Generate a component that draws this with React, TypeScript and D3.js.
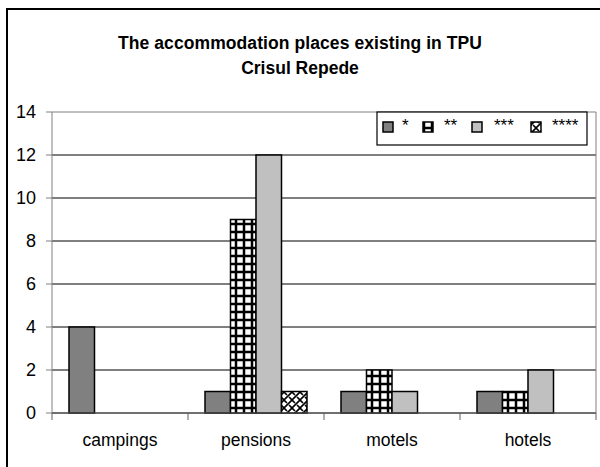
import React from "react";
import * as d3 from "d3";

const categories = ["campings", "pensions", "motels", "hotels"];
const seriesNames = ["*", "**", "***", "****"];
const oneStar = [4, 1, 1, 1];
const twoStar = [0, 9, 2, 1];
const threeStar = [0, 12, 1, 2];
const fourStar = [0, 1, 0, 0];
const yTicks = [0, 2, 4, 6, 8, 10, 12, 14];

const seriesValues = [oneStar, twoStar, threeStar, fourStar];
const fills = ["#808080", "url(#grid)", "#c0c0c0", "url(#zig)"];

const W = 600;
const H = 467;
const plot = { left: 52, right: 596, top: 112, bottom: 413 };
const font = "'Liberation Sans', Arial, sans-serif";

export default function App() {
  const x0 = d3.scaleBand().domain(categories).range([plot.left, plot.right]);
  // bars fill 3/4 of each category band, centred
  const x1 = d3
    .scaleBand()
    .domain(seriesNames)
    .range([0, x0.bandwidth()])
    .paddingInner(0)
    .paddingOuter(2 / 3);
  const y = d3.scaleLinear().domain([0, 14]).range([plot.bottom, plot.top]);

  const legendItems = [
    { x: 383, tx: 402 },
    { x: 423, tx: 444 },
    { x: 472, tx: 494 },
    { x: 531, tx: 552 },
  ];

  return (
    <svg width={W} height={H} style={{ position: "absolute", left: 0, top: 0, background: "#fff" }} fontFamily={font}>
      <defs>
        <pattern id="grid" width="8" height="8" patternUnits="userSpaceOnUse">
          <rect width="8" height="8" fill="#fff" />
          <path d="M0,0H8M0,8H8M0,0V8M8,0V8" stroke="#000" strokeWidth="2.5" />
        </pattern>
        <pattern id="zig" width="8" height="8" patternUnits="userSpaceOnUse">
          <rect width="8" height="8" fill="#fff" />
          <path d="M0,8L8,0M-2,2L2,-2M6,10L10,6M0,0L3,3M5,5L8,8" stroke="#000" strokeWidth="1.6" />
        </pattern>
      </defs>

      {/* outer frame */}
      <rect x={7} y={9} width={640} height={500} fill="none" stroke="#000" strokeWidth={2} />

      <text x={300} y={49} textAnchor="middle" fontSize={17.5} fontWeight="bold" textLength={364} lengthAdjust="spacing">
        The accommodation places existing in TPU
      </text>
      <text x={300} y={74} textAnchor="middle" fontSize={17.5} fontWeight="bold">
        Crisul Repede
      </text>

      {/* gridlines */}
      {yTicks.map((t) => (
        <line key={t} x1={plot.left} x2={plot.right} y1={y(t)} y2={y(t)} stroke={t === 14 ? "#808080" : "#000"} strokeWidth={1} />
      ))}
      <line x1={plot.right} x2={plot.right} y1={plot.top} y2={plot.bottom} stroke="#808080" />

      {/* bars */}
      {categories.map((c, ci) => (
        <g key={c} transform={`translate(${x0(c)},0)`}>
          {seriesNames.map((s, si) => {
            const v = seriesValues[si][ci];
            if (!v) return null;
            return (
              <rect
                key={s}
                x={x1(s)}
                y={y(v)}
                width={x1.bandwidth()}
                height={y(0) - y(v)}
                fill={fills[si]}
                stroke="#000"
                strokeWidth={1.5}
              />
            );
          })}
        </g>
      ))}

      {/* y axis */}
      <line x1={plot.left} x2={plot.left} y1={plot.top} y2={plot.bottom} stroke="#808080" />
      {yTicks.map((t) => (
        <g key={t}>
          <line x1={plot.left - 6} x2={plot.left} y1={y(t)} y2={y(t)} stroke="#808080" />
          <text x={36} y={y(t)} dy="0.36em" textAnchor="end" fontSize={18}>
            {t}
          </text>
        </g>
      ))}

      {/* x axis */}
      <line x1={plot.left} x2={plot.right} y1={plot.bottom} y2={plot.bottom} stroke="#606060" />
      {[...categories.map((c) => x0(c)!), plot.right].map((xv, i) => (
        <line key={i} x1={xv} x2={xv} y1={plot.bottom} y2={plot.bottom + 7} stroke="#606060" />
      ))}
      {categories.map((c) => (
        <text key={c} x={x0(c)! + x0.bandwidth() / 2} y={446} textAnchor="middle" fontSize={17.5}>
          {c}
        </text>
      ))}

      {/* legend */}
      <rect x={377} y={112} width={210} height={33} fill="#fff" stroke="#000" strokeWidth={1.2} />
      {seriesNames.map((s, i) => (
        <g key={s}>
          <rect x={legendItems[i].x} y={122} width={10} height={10} fill={fills[i]} stroke="#000" strokeWidth={1.5} />
          <text x={legendItems[i].tx} y={131} fontSize={17}>
            {s}
          </text>
        </g>
      ))}
    </svg>
  );
}
